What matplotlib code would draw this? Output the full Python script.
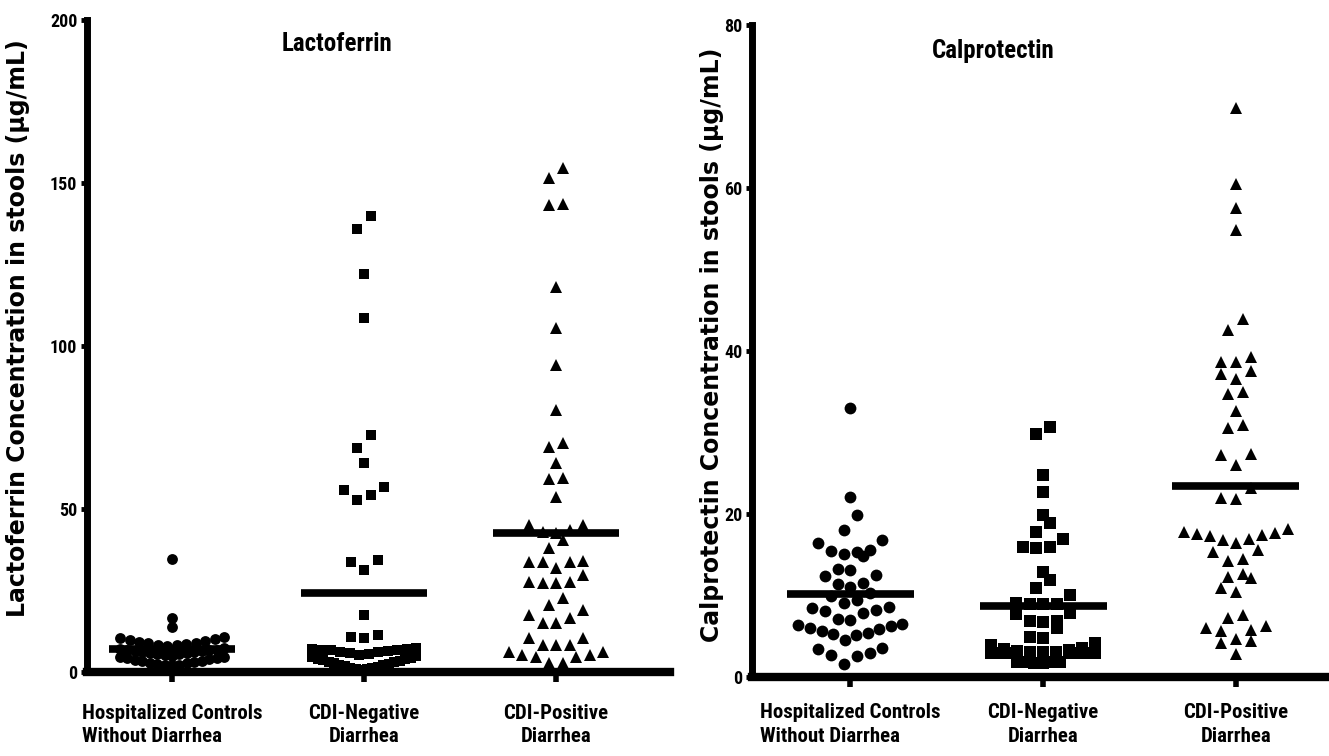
import os
import numpy as np
import matplotlib
matplotlib.use("Agg")
import matplotlib.pyplot as plt
from matplotlib import font_manager
from matplotlib.font_manager import FontProperties

# categories / tick labels
groups = ["Hospitalized Controls\nWithout Diarrhea", "CDI-Negative\nDiarrhea", "CDI-Positive\nDiarrhea"]
markers = ["o", "s", "^"]

# Lactoferrin (ug/mL)
lacto_hosp = [34.7, 16.6, 13.8,
              10.7, 10.4, 10.1, 9.8, 9.5, 9.3, 9.0, 8.8, 8.6, 8.4, 8.2, 8.1,
              7.3, 7.1, 6.9, 6.8, 6.6, 6.5, 6.3, 6.2, 6.1, 5.9, 5.8, 5.6, 5.5, 5.3, 5.0,
              4.7, 4.5, 4.4, 4.2, 3.9, 3.8, 3.5, 3.4, 3.2, 2.9, 2.8, 2.6, 2.3, 2.2, 2.0]
lacto_neg = [140.0, 136.0, 122.0, 108.5, 72.7, 68.7, 64.1, 56.8, 55.8, 54.3, 52.8, 34.4, 33.8, 31.3,
             17.5, 11.3, 10.8, 10.3,
             7.4, 7.2, 7.0, 6.9, 6.7, 6.6, 6.4, 6.2, 6.0, 5.8, 5.5, 5.2,
             4.9, 4.6, 4.4, 4.1, 3.9, 3.6, 3.4, 3.2, 3.0, 2.8, 2.5, 2.3, 2.0, 1.8, 1.5, 1.3,
             1.1, 0.9, 0.8, 0.7]
lacto_pos = [154.6, 151.5, 143.3, 143.5, 118.0, 105.5, 94.2, 80.4, 70.1, 69.1, 64.0, 59.4, 59.3, 53.8,
             45.1, 45.0, 43.5, 43.0, 42.6, 40.5, 38.0, 33.8, 33.7, 33.9, 33.6, 31.9, 29.8, 27.7, 27.6,
             27.3, 27.2, 22.6, 20.6, 19.0, 17.5, 16.6, 15.0, 15.1, 10.4, 10.3, 8.3, 8.4, 8.2,
             6.2, 6.1, 5.2, 5.3, 4.7, 4.6, 2.8, 2.7]

# Calprotectin (ug/mL)
calpro_hosp = [33.0, 22.1, 19.9, 18.0, 16.4, 16.8, 15.5, 15.1, 14.8, 15.3, 15.6, 13.1, 12.4, 12.5, 13.2,
               11.4, 11.5, 11.1, 10.3, 9.4, 9.1, 9.9, 8.5, 8.2, 7.8, 7.1, 7.0, 8.1, 8.6,
               6.5, 6.3, 5.9, 5.3, 5.2, 4.6, 5.4, 5.7, 6.0, 6.4, 3.5, 2.6, 1.6, 2.7, 3.0, 3.4]
calpro_neg = [30.7, 29.8, 24.8, 22.7, 19.9, 18.9, 17.8, 16.9, 15.9, 15.8, 16.0, 12.9, 11.9, 10.9, 10.1,
              9.0, 9.0, 9.1, 8.9, 7.8, 7.7, 6.9, 6.9, 6.8, 6.0, 4.9, 4.8,
              4.2, 3.9, 3.4, 3.2, 3.1, 3.0, 3.0, 2.9, 2.9, 2.9, 3.0, 3.1, 3.3, 3.6, 3.0, 3.1,
              1.9, 1.8, 1.7, 1.7, 1.8, 1.9]
calpro_pos = [69.8, 60.5, 57.5, 54.8, 43.9, 42.6, 39.3, 38.7, 38.6, 37.6, 37.2, 36.6, 35.0, 34.7,
              32.6, 30.9, 30.6, 27.4, 27.2, 26.0, 23.2, 22.0, 21.9,
              17.8, 17.6, 17.3, 16.9, 16.5, 16.8, 17.4, 17.7, 18.1,
              15.6, 15.3, 14.5, 14.2, 12.6, 12.3, 12.1, 10.9, 10.4, 7.6, 7.3, 6.2, 6.0, 5.8,
              5.6, 4.7, 4.4, 4.2, 2.8]

# look for a bold condensed face (the original uses Arial Narrow Bold)
files = [f.fname for f in font_manager.fontManager.ttflist]
cond = None
for p in ["liberationsansnarrow-bold.", "arialnarrowbold", "arial narrow bold", "robotocondensed-bold.",
          "dejavusanscondensed-bold.", "notosans-condensedbold", "opensans-condbold",
          "opensans_condensed-bold", "opensanscondensed-bold"]:
    for fn in files:
        if os.path.basename(fn).lower().startswith(p):
            cond = fn
            break
    if cond:
        break
if cond is None:
    for fn in files:
        b = os.path.basename(fn).lower()
        if ("narrow" in b or "condensed" in b) and "bold" in b and "italic" not in b \
                and "semi" not in b and "extra" not in b:
            cond = fn
            break


def nf(size):
    if cond:
        return FontProperties(fname=cond, size=size)
    return FontProperties(family="Liberation Sans", weight="bold", size=size * 0.86)


W, H = 1329, 756
fig = plt.figure(figsize=(W / 100, H / 100), dpi=100)


def px_axes(x0, y0, x1, y1):
    return fig.add_axes([x0 / W, 1 - y1 / H, (x1 - x0) / W, (y1 - y0) / H])


def swarm(ax, vals, xc, w_px, bin_px, span_px=104):
    # Prism-like rows: values within one bin height share a row, spread from the centre
    vals = np.asarray(vals, float)
    ypx = ax.transData.transform(np.column_stack([np.zeros(len(vals)), vals]))[:, 1]
    unit = ax.transData.transform((1, 0))[0] - ax.transData.transform((0, 0))[0]
    order = np.argsort(vals, kind="stable")
    xs = np.zeros(len(vals))
    i = 0
    while i < len(order):
        j = i
        while j < len(order) and ypx[order[j]] < ypx[order[i]] + bin_px:
            j += 1
        row = order[i:j]
        n = len(row)
        step = w_px if n < 2 else min(w_px, span_px / (n - 1))
        if n % 2:
            slots = [0] + [s for k in range(1, n) for s in (-k, k)]
        else:
            slots = [s for k in range(n) for s in (-(k + 0.5), k + 0.5)]
        for idx, s in zip(row, slots):
            xs[idx] = xc + s * step / unit
        i = j
    return xs


def panel(ax, data, ymax, yticks, xlim, title, title_xy, ms, w, bins, xpad):
    ax.set_xlim(*xlim)
    ax.set_ylim(0, ymax)
    for s in ["top", "right"]:
        ax.spines[s].set_visible(False)
    ax.spines["left"].set_linewidth(5)
    ax.spines["bottom"].set_linewidth(6)
    ax.set_yticks(yticks, labels=[str(t) for t in yticks], fontproperties=nf(13))
    ax.set_xticks(range(3), labels=groups, fontproperties=nf(15), linespacing=1.3)
    ax.get_xticklabels()[0].set_multialignment("left")
    ax.tick_params(axis="x", length=7, width=4, pad=xpad)
    ax.tick_params(axis="y", length=4, width=3.5, pad=3)
    fig.canvas.draw()
    for i, vals in enumerate(data):
        xs = swarm(ax, vals, i, w[i], bins[i])
        ax.plot(xs, vals, linestyle="none", marker=markers[i], ms=ms[i], color="black",
                markeredgewidth=0, clip_on=False, zorder=3)
        ax.hlines(np.mean(vals), i - 0.33, i + 0.33, color="black", lw=5.5, zorder=4)
    fig.text(title_xy[0] / W, 1 - title_xy[1] / H, title, ha="center", va="center",
             fontproperties=nf(18))


ax1 = px_axes(87, 20, 670, 672)
panel(ax1, [lacto_hosp, lacto_neg, lacto_pos], 200, [0, 50, 100, 150, 200], (-0.443, 2.593),
      "Lactoferrin", (337, 44), [7.8, 7.5, 8.8], [13, 13.5, 13.5], [9, 14, 14], 16)

ax2 = px_axes(752, 25, 1335, 677)
panel(ax2, [calpro_hosp, calpro_neg, calpro_pos], 80, [0, 20, 40, 60, 80], (-0.511, 2.515),
      "Calprotectin", (993, 51), [8.5, 8.0, 8.8], [12.8, 13.5, 15], [16, 11, 14], 12)

fig.text(18 / W, 1 - 328 / H, "Lactoferrin Concentration in stools (\u00b5g/mL)", rotation=90,
         ha="center", va="center", fontweight="bold", fontsize=17)
fig.text(712 / W, 1 - 345 / H, "Calprotectin Concentration in stools (\u00b5g/mL)", rotation=90,
         ha="center", va="center", fontweight="bold", fontsize=17)

fig.savefig("out.png", dpi=100)
